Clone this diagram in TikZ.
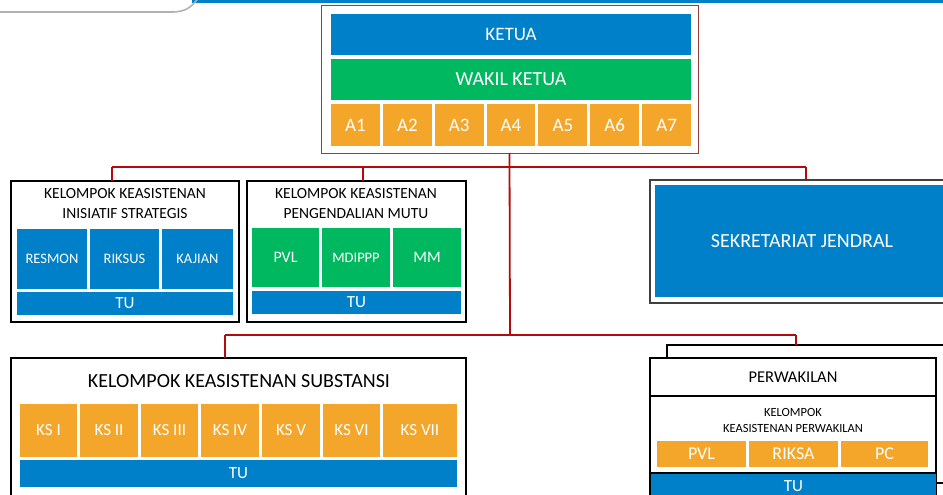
\documentclass[tikz,border=0pt]{standalone}
\usepackage{fontspec}
\setmainfont{Carlito}
\definecolor{cblue}{RGB}{0,128,200}
\definecolor{cgreen}{RGB}{0,184,96}
\definecolor{corange}{RGB}{243,166,41}
\definecolor{cred}{RGB}{180,10,10}
\definecolor{cframe}{RGB}{150,60,60}
\begin{document}
\begin{tikzpicture}[x=1pt,y=-1pt,
  cell/.style={inner sep=0pt,outer sep=0pt,anchor=north west,text=white,font=\fontsize{14.5}{18}\selectfont},
  bluecell/.style={cell,fill=cblue},
  greencell/.style={cell,fill=cgreen},
  orangecell/.style={cell,fill=corange},
  groupbox/.style={inner sep=0pt,outer sep=0pt,anchor=north west,draw=black,line width=2.6pt,fill=white},
  title/.style={inner sep=0pt,align=center,text=black},
  conn/.style={draw=cred,line width=1.8pt}]
\useasboundingbox (0,0) rectangle (943,495);
\clip (0,0) rectangle (943,495);
% top band
\fill[cblue] (192,0) rectangle (943,3);
\draw[gray!60,line width=1.6pt] (0,12) -- (172,12) .. controls (188,12) and (192,5) .. (197,0);
% top frame
\node[inner sep=0pt,outer sep=0pt,anchor=north west,draw=cframe,line width=1pt,fill=white,minimum width=377,minimum height=147] (top) at (321,6) {};
\coordinate (j1) at (510,167);
\coordinate (j2) at (510,335);
\coordinate (dIS) at (112,167);
\coordinate (dPM) at (363,167);
\coordinate (dSJ) at (806,167);
\coordinate (dSB) at (225,335);
\coordinate (dPW) at (796,335);
% top block
\node[bluecell,font=\fontsize{19}{22}\selectfont,minimum width=360,minimum height=41] (ketua) at (331,14) {KETUA};
\node[greencell,font=\fontsize{20}{23}\selectfont,minimum width=360,minimum height=41] (wakil) at (331,59) {WAKIL KETUA};
\foreach \i in {1,...,7}
  \node[orangecell,font=\fontsize{19}{22}\selectfont,minimum width=48.9,minimum height=42] (a\i) at ({331+(\i-1)*51.86},104) {A\i};
% inisiatif strategis
\node[groupbox,minimum width=228,minimum height=141] (is) at (11,181) {};
\node[title,font=\fontsize{15.5}{20}\selectfont] (ist) at (125,204) {KELOMPOK KEASISTENAN\\INISIATIF STRATEGIS};
\node[bluecell,minimum width=70,minimum height=60] (resmon) at (17,229) {RESMON};
\node[bluecell,minimum width=69,minimum height=60] (riksus) at (90,229) {RIKSUS};
\node[bluecell,minimum width=71,minimum height=60] (kajian) at (162,229) {KAJIAN};
\node[bluecell,font=\fontsize{17}{20}\selectfont,minimum width=216,minimum height=23] (istu) at (17,292) {TU};
% pengendalian mutu
\node[groupbox,minimum width=219,minimum height=141] (pm) at (247,181) {};
\node[title,font=\fontsize{15.5}{20}\selectfont] (pmt) at (356,204) {KELOMPOK KEASISTENAN\\PENGENDALIAN MUTU};
\node[greencell,font=\fontsize{16}{19}\selectfont,minimum width=67,minimum height=59] (pvl1) at (252,228) {PVL};
\node[greencell,minimum width=68,minimum height=59] (mdippp) at (322,228) {MDIPPP};
\node[greencell,font=\fontsize{16}{19}\selectfont,minimum width=68,minimum height=59] (mm) at (393,228) {MM};
\node[bluecell,font=\fontsize{17}{20}\selectfont,minimum width=209,minimum height=23] (pmtu) at (252,291) {TU};
% sekretariat jendral
\node[inner sep=0pt,outer sep=0pt,anchor=north west,draw=black!75,line width=1.4pt,fill=white,minimum width=310,minimum height=123] (sj) at (650,180) {};
\node[bluecell,font=\fontsize{20}{23}\selectfont,minimum width=294,minimum height=112] (sjf) at (655,185) {SEKRETARIAT JENDRAL};
% substansi
\node[groupbox,minimum width=455,minimum height=160] (sb) at (11,358) {};
\node[title,font=\fontsize{20}{23}\selectfont] (sbt) at (239,381) {KELOMPOK KEASISTENAN SUBSTANSI};
\node[orangecell,font=\fontsize{17}{20}\selectfont,minimum width=57,minimum height=53] (ks1) at (20,404) {KS I};
\node[orangecell,font=\fontsize{17}{20}\selectfont,minimum width=58,minimum height=53] (ks2) at (80,404) {KS II};
\node[orangecell,font=\fontsize{17}{20}\selectfont,minimum width=57,minimum height=53] (ks3) at (141,404) {KS III};
\node[orangecell,font=\fontsize{17}{20}\selectfont,minimum width=58,minimum height=53] (ks4) at (201,404) {KS IV};
\node[orangecell,font=\fontsize{17}{20}\selectfont,minimum width=58,minimum height=53] (ks5) at (262,404) {KS V};
\node[orangecell,font=\fontsize{17}{20}\selectfont,minimum width=57,minimum height=53] (ks6) at (323,404) {KS VI};
\node[orangecell,font=\fontsize{17}{20}\selectfont,minimum width=74,minimum height=53] (ks7) at (383,404) {KS VII};
\node[bluecell,font=\fontsize{17}{20}\selectfont,minimum width=437,minimum height=27] (sbtu) at (20,460) {TU};
% perwakilan
\node[inner sep=0pt,outer sep=0pt,anchor=north west,draw=black,line width=1.8pt,fill=white,minimum width=300,minimum height=160] (pwb) at (667,345) {};
\node[inner sep=0pt,outer sep=0pt,anchor=north west,draw=black,line width=1.8pt,fill=white,font=\fontsize{16.5}{20}\selectfont,minimum width=286,minimum height=38] (pw) at (650,358) {PERWAKILAN};
\node[inner sep=0pt,outer sep=0pt,anchor=north west,draw=black,line width=1.8pt,fill=white,minimum width=286,minimum height=120] (pwk) at (650,396) {};
\node[title,font=\fontsize{12.5}{16}\selectfont] (pwt) at (793,420) {KELOMPOK\\KEASISTENAN PERWAKILAN};
\node[orangecell,font=\fontsize{18}{21}\selectfont,minimum width=89,minimum height=26] (pvl2) at (657,441) {PVL};
\node[orangecell,font=\fontsize{18}{21}\selectfont,minimum width=89,minimum height=26] (riksa) at (749,441) {RIKSA};
\node[orangecell,font=\fontsize{18}{21}\selectfont,minimum width=87,minimum height=26] (pc) at (841,441) {PC};
\draw[black,line width=1.8pt] (pwk.west |- 0,473) -- (pwk.east |- 0,473);
\node[bluecell,font=\fontsize{17}{20}\selectfont,minimum width=285,minimum height=25] (pwtu) at (651,474) {TU};
\draw[black,line width=1.5pt] (pwk.east |- 0,483) -- (pwb.east |- 0,483);
% connector lines
\draw[conn] (top.south) -- (j2);
\draw[conn] (dIS) -- (dSJ);
\draw[conn] (dIS) -- (dIS |- is.north);
\draw[conn] (dPM) -- (dPM |- pm.north);
\draw[conn] (dSJ) -- (dSJ |- sj.north);
\draw[conn] (dSB) -- (dPW);
\draw[conn] (dSB) -- (dSB |- sb.north);
\draw[conn] (dPW) -- (dPW |- pwb.north);
\end{tikzpicture}
\end{document}
